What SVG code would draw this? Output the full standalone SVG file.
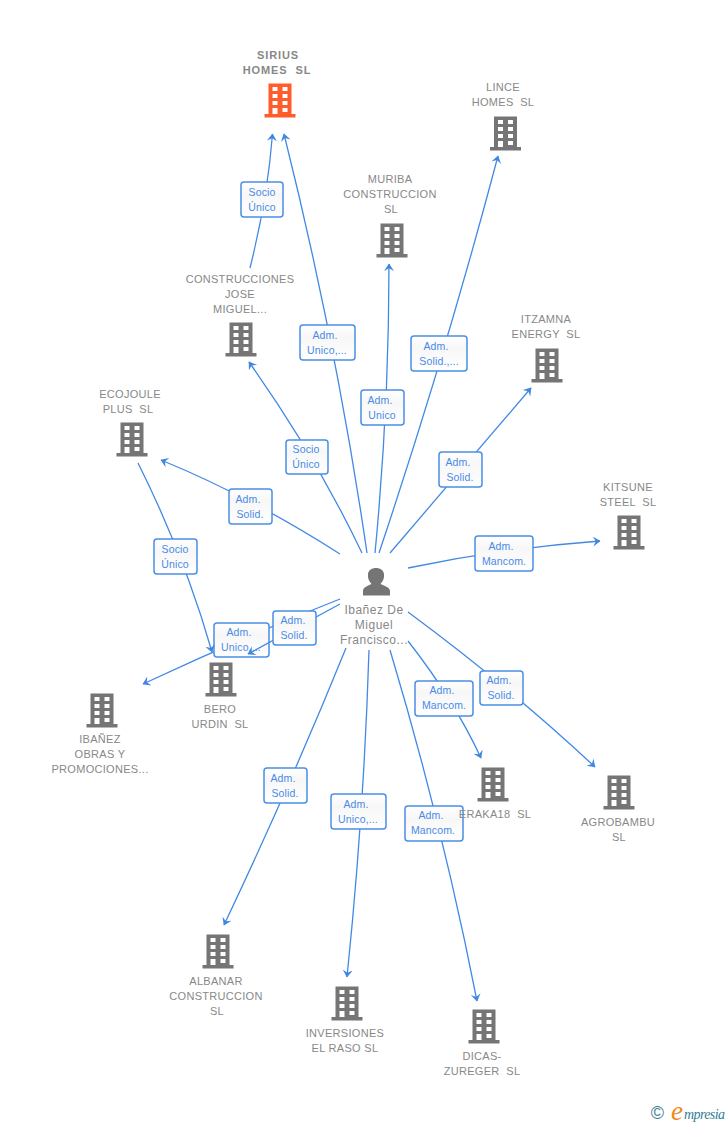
<svg xmlns="http://www.w3.org/2000/svg" width="728" height="1125" viewBox="0 0 728 1125">
<style>
text{white-space:pre}
.e{fill:none;stroke:#4289e4;stroke-width:1.3;marker-end:url(#a)}
.b{fill:url(#g);stroke:#4a8fe6;stroke-width:1.5}
.l{font:10.5px "Liberation Sans",Arial,sans-serif;letter-spacing:.15px;fill:#4a8ae6;text-anchor:middle}
.t{font:11px "Liberation Sans",Arial,sans-serif;letter-spacing:.3px;fill:#888;text-anchor:middle}
.s{font:bold 11px "Liberation Sans",Arial,sans-serif;letter-spacing:.9px;fill:#888;text-anchor:middle}
.p{font:12px "Liberation Sans",Arial,sans-serif;letter-spacing:.5px;fill:#888;text-anchor:middle}
</style>
<defs>
<linearGradient id="g" x1="0" y1="0" x2="0" y2="1"><stop offset="0" stop-color="#fff"/><stop offset=".35" stop-color="#f7f7f7"/><stop offset="1" stop-color="#fff"/></linearGradient>
<marker id="a" markerUnits="userSpaceOnUse" markerWidth="10" markerHeight="12" refX="7" refY="5.500" orient="auto"><path d="M0 .5L7.500 5.500L0 10.500L2.800 5.500Z" fill="#3f86e2"/></marker>
<path id="n" fill-rule="evenodd" d="M-11.500-16.500H11.500V14H15.500V17.500H-15.500V14H-11.500ZM-7.500-13V-9H-2.500V-13ZM2.500-13V-9H7.500V-13ZM-7.500-6V-2H-2.500V-6ZM2.500-6V-2H7.500V-6ZM-7.500 1V5H-2.500V1ZM2.500 1V5H7.500V1ZM-7.500 8V14H-2.500V8ZM2.500 8V12H7.500V8Z"/>
</defs>
<rect width="728" height="1125" fill="#fff"/>
<g id="connectors">
<path class="e" d="M250 268Q267.700 197 272.500 134"/>
<path class="e" d="M367 553Q336.500 343.500 284 134"/>
<path class="e" d="M375 553Q389 408 389 264"/>
<path class="e" d="M379 553Q445.500 354.500 498 156"/>
<path class="e" d="M362 553Q316.500 457.500 249 362"/>
<path class="e" d="M390 553L531 388"/>
<path class="e" d="M340 554Q251 497 161 460"/>
<path class="e" d="M408 568Q504 548 600 541"/>
<path class="e" d="M340 599Q241 638 143 684"/>
<path class="e" d="M408 641Q453.500 699 481 758"/>
<path class="e" d="M408 612Q512 689 595 767"/>
<path class="e" d="M346 648Q290 786 224 925"/>
<path class="e" d="M369 650Q364 813 347 977"/>
<path class="e" d="M390 650Q442.500 825 477 1001"/>
</g>
<g id="edge-labels">
<g><rect class="b" x="241" y="182" width="42" height="35" rx="3"/><text class="l" x="262" y="196">Socio</text><text class="l" x="262" y="211">Único</text></g>
<g><rect class="b" x="300" y="325" width="55" height="35" rx="3"/><text class="l" x="325" y="339">Adm.</text><text class="l" x="327" y="354">Unico,...</text></g>
<g><rect class="b" x="361" y="390" width="43" height="35" rx="3"/><text class="l" x="380" y="404">Adm.</text><text class="l" x="382" y="419">Unico</text></g>
<g><rect class="b" x="411" y="336" width="56" height="35" rx="3"/><text class="l" x="436" y="350">Adm.</text><text class="l" x="439" y="365">Solid.,...</text></g>
<g><rect class="b" x="286" y="440" width="42" height="34" rx="3"/><text class="l" x="306" y="453">Socio</text><text class="l" x="306" y="468">Único</text></g>
<g><rect class="b" x="439" y="452" width="43" height="35" rx="3"/><text class="l" x="458" y="466">Adm.</text><text class="l" x="460" y="481">Solid.</text></g>
<g><rect class="b" x="229" y="489" width="43" height="35" rx="3"/><text class="l" x="248" y="503">Adm.</text><text class="l" x="250" y="518">Solid.</text></g>
<g><rect class="b" x="475" y="536" width="58" height="35" rx="3"/><text class="l" x="501" y="550">Adm.</text><text class="l" x="504" y="565">Mancom.</text></g>
<g><rect class="b" x="214" y="623" width="55" height="34" rx="3"/><text class="l" x="239" y="636">Adm.</text><text class="l" x="241" y="651">Unico,...</text></g>
<g><rect class="b" x="415" y="681" width="58" height="35" rx="3"/><text class="l" x="442" y="694">Adm.</text><text class="l" x="444" y="709">Mancom.</text></g>
<g><rect class="b" x="480" y="671" width="43" height="34" rx="3"/><text class="l" x="499" y="684">Adm.</text><text class="l" x="501" y="699">Solid.</text></g>
<g><rect class="b" x="264" y="768" width="43" height="35" rx="3"/><text class="l" x="283" y="782">Adm.</text><text class="l" x="285" y="797">Solid.</text></g>
<g><rect class="b" x="331" y="794" width="55" height="35" rx="3"/><text class="l" x="356" y="808">Adm.</text><text class="l" x="358" y="823">Unico,...</text></g>
<g><rect class="b" x="405" y="806" width="58" height="35" rx="3"/><text class="l" x="431" y="819">Adm.</text><text class="l" x="433" y="834">Mancom.</text></g>
</g>
<g id="connectors-top">
<path class="e" d="M138 463Q185 557 212 652"/>
<path class="e" d="M340 604L248 654"/>
</g>
<g id="edge-labels-top">
<g><rect class="b" x="154" y="539" width="43" height="35" rx="3"/><text class="l" x="175" y="553">Socio</text><text class="l" x="175" y="568">Único</text></g>
<g><rect class="b" x="273" y="611" width="43" height="34" rx="3"/><text class="l" x="293" y="624">Adm.</text><text class="l" x="294" y="639">Solid.</text></g>
</g>
<g id="sirius"><use href="#n" x="280" y="100" fill="#ff5c2b"/><text class="s" x="278" y="59">SIRIUS</text><text class="s" x="277" y="74">HOMES  SL</text></g>
<g id="lince"><use href="#n" x="505.500" y="133" fill="#757575"/><text class="t" x="503" y="91">LINCE</text><text class="t" x="503" y="106">HOMES  SL</text></g>
<g id="muriba"><use href="#n" x="392" y="240" fill="#757575"/><text class="t" x="390" y="183">MURIBA</text><text class="t" x="390" y="198">CONSTRUCCION</text><text class="t" x="391" y="213">SL</text></g>
<g id="construcciones"><use href="#n" x="241" y="339" fill="#757575"/><text class="t" x="240" y="283">CONSTRUCCIONES</text><text class="t" x="240" y="298">JOSE</text><text class="t" x="240" y="313">MIGUEL...</text></g>
<g id="itzamna"><use href="#n" x="547" y="365" fill="#757575"/><text class="t" x="546" y="323">ITZAMNA</text><text class="t" x="546" y="338">ENERGY  SL</text></g>
<g id="ecojoule"><use href="#n" x="132" y="439" fill="#757575"/><text class="t" x="130" y="398">ECOJOULE</text><text class="t" x="128" y="413">PLUS  SL</text></g>
<g id="kitsune"><use href="#n" x="629" y="532" fill="#757575"/><text class="t" x="628" y="491">KITSUNE</text><text class="t" x="628" y="506">STEEL  SL</text></g>
<g id="bero"><use href="#n" x="221" y="679" fill="#757575"/><text class="t" x="220" y="713">BERO</text><text class="t" x="220" y="728">URDIN  SL</text></g>
<g id="ibanez-obras"><use href="#n" x="102" y="710" fill="#757575"/><text class="t" x="100" y="743">IBAÑEZ</text><text class="t" x="100" y="758">OBRAS Y</text><text class="t" x="100" y="773">PROMOCIONES...</text></g>
<g id="eraka"><use href="#n" x="493" y="784" fill="#757575"/><text class="t" x="495" y="818">ERAKA18  SL</text></g>
<g id="agrobambu"><use href="#n" x="619" y="792" fill="#757575"/><text class="t" x="618" y="826">AGROBAMBU</text><text class="t" x="619" y="841">SL</text></g>
<g id="albanar"><use href="#n" x="218" y="951" fill="#757575"/><text class="t" x="216" y="985">ALBANAR</text><text class="t" x="216" y="1000">CONSTRUCCION</text><text class="t" x="217" y="1015">SL</text></g>
<g id="inversiones"><use href="#n" x="347" y="1003" fill="#757575"/><text class="t" x="345" y="1037">INVERSIONES</text><text class="t" x="345" y="1052">EL RASO SL</text></g>
<g id="dicas"><use href="#n" x="484" y="1026" fill="#757575"/><text class="t" x="482" y="1060">DICAS-</text><text class="t" x="482" y="1075">ZUREGER  SL</text></g>
<g id="person"><path fill="#757575" d="M363 595.500V591C363 587.500 367 586 371.500 584C368.500 581 367.500 577 368 574C368.500 570 372 568 376 568C380 568 383.500 570 384 574C384.500 577 383.500 581 380.500 584C385 586 390 587.500 390 591V595.500Z"/><text class="p" x="374" y="614">Ibañez De</text><text class="p" x="374" y="629">Miguel</text><text class="p" x="374" y="644">Francisco...</text></g>
<g id="logo"><text x="657.500" y="1119" font-family="'Liberation Sans',sans-serif" font-size="18" fill="#3f7f96" text-anchor="middle">©</text><text x="671" y="1120" font-family="'Liberation Serif',serif" font-style="italic" font-size="27" fill="#f08a1d">e</text><text x="684" y="1119" font-family="'Liberation Serif',serif" font-style="italic" font-size="14" fill="#2f7f96" textLength="41">mpresia</text></g>
</svg>
